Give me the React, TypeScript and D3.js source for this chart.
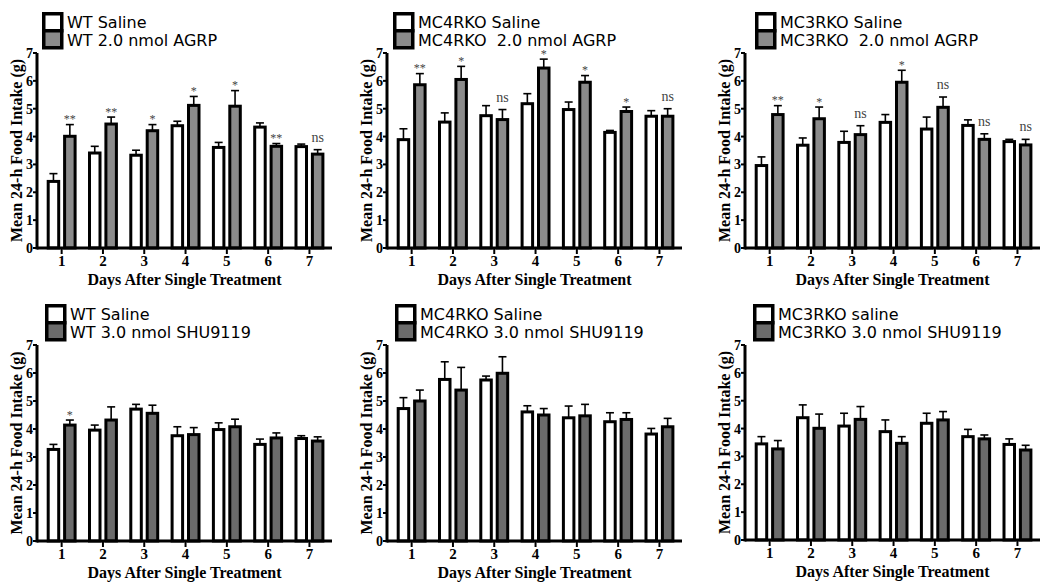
import React from "react";
import * as d3 from "d3";

const days = [1, 2, 3, 4, 5, 6, 7];
const yTicks = [0, 1, 2, 3, 4, 5, 6, 7];
const yLabel = "Mean 24-h Food Intake (g)";
const xLabel = "Days After Single Treatment";

// Panel 1: WT AGRP
const p1Names = ["WT Saline", "WT 2.0 nmol AGRP"];
const p1SalMean = [2.39, 3.41, 3.33, 4.39, 3.61, 4.34, 3.64];
const p1SalSem = [0.28, 0.24, 0.18, 0.16, 0.18, 0.15, 0.09];
const p1TrtMean = [4.01, 4.45, 4.21, 5.12, 5.09, 3.65, 3.37];
const p1TrtSem = [0.42, 0.25, 0.22, 0.32, 0.56, 0.1, 0.16];
const p1Sig = ["**", "**", "*", "*", "*", "**", "ns"];

// Panel 2: MC4RKO AGRP
const p2Names = ["MC4RKO Saline", "MC4RKO  2.0 nmol AGRP"];
const p2SalMean = [3.89, 4.52, 4.75, 5.18, 4.97, 4.15, 4.73];
const p2SalSem = [0.39, 0.33, 0.36, 0.36, 0.27, 0.07, 0.2];
const p2TrtMean = [5.86, 6.05, 4.61, 6.46, 5.95, 4.9, 4.73];
const p2TrtSem = [0.4, 0.47, 0.36, 0.32, 0.24, 0.16, 0.27];
const p2Sig = ["**", "*", "ns", "*", "*", "*", "ns"];

// Panel 3: MC3RKO AGRP
const p3Names = ["MC3RKO Saline", "MC3RKO  2.0 nmol AGRP"];
const p3SalMean = [2.96, 3.69, 3.79, 4.51, 4.27, 4.4, 3.82];
const p3SalSem = [0.31, 0.26, 0.4, 0.28, 0.43, 0.2, 0.08];
const p3TrtMean = [4.79, 4.64, 4.07, 5.95, 5.05, 3.9, 3.7];
const p3TrtSem = [0.32, 0.42, 0.32, 0.43, 0.37, 0.2, 0.2];
const p3Sig = ["**", "*", "ns", "*", "ns", "ns", "ns"];

// Panel 4: WT SHU9119
const p4Names = ["WT Saline", "WT 3.0 nmol SHU9119"];
const p4SalMean = [3.27, 3.96, 4.71, 3.76, 3.98, 3.45, 3.66];
const p4SalSem = [0.18, 0.18, 0.17, 0.32, 0.24, 0.19, 0.1];
const p4TrtMean = [4.14, 4.32, 4.56, 3.8, 4.08, 3.68, 3.57];
const p4TrtSem = [0.18, 0.47, 0.29, 0.25, 0.27, 0.18, 0.15];
const p4Sig = ["*", "", "", "", "", "", ""];

// Panel 5: MC4RKO SHU9119
const p5Names = ["MC4RKO Saline", "MC4RKO 3.0 nmol SHU9119"];
const p5SalMean = [4.73, 5.77, 5.75, 4.61, 4.4, 4.26, 3.82];
const p5SalSem = [0.39, 0.63, 0.14, 0.22, 0.42, 0.32, 0.2];
const p5TrtMean = [5.0, 5.39, 5.99, 4.5, 4.47, 4.34, 4.08];
const p5TrtSem = [0.39, 0.81, 0.59, 0.23, 0.41, 0.24, 0.3];
const p5Sig = ["", "", "", "", "", "", ""];

// Panel 6: MC3RKO SHU9119
const p6Names = ["MC3RKO saline", "MC3RKO 3.0 nmol SHU9119"];
const p6SalMean = [3.45, 4.39, 4.09, 3.89, 4.19, 3.71, 3.43];
const p6SalSem = [0.26, 0.46, 0.46, 0.42, 0.36, 0.26, 0.2];
const p6TrtMean = [3.27, 4.01, 4.33, 3.47, 4.31, 3.63, 3.23];
const p6TrtSem = [0.3, 0.51, 0.46, 0.24, 0.3, 0.14, 0.17];
const p6Sig = ["", "", "", "", "", "", ""];

const panels = [
  { names: p1Names, sm: p1SalMean, ss: p1SalSem, tm: p1TrtMean, ts: p1TrtSem, sig: p1Sig, ax: 37, top: 53, bot: 248, lg: 5, grey: "#8b8b8b" },
  { names: p2Names, sm: p2SalMean, ss: p2SalSem, tm: p2TrtMean, ts: p2TrtSem, sig: p2Sig, ax: 387, top: 53, bot: 248, lg: 6, grey: "#8b8b8b" },
  { names: p3Names, sm: p3SalMean, ss: p3SalSem, tm: p3TrtMean, ts: p3TrtSem, sig: p3Sig, ax: 745, top: 53, bot: 248, lg: 10, grey: "#8b8b8b" },
  { names: p4Names, sm: p4SalMean, ss: p4SalSem, tm: p4TrtMean, ts: p4TrtSem, sig: p4Sig, ax: 37, top: 345, bot: 541, lg: 8, grey: "#6b6b6b" },
  { names: p5Names, sm: p5SalMean, ss: p5SalSem, tm: p5TrtMean, ts: p5TrtSem, sig: p5Sig, ax: 387, top: 345, bot: 541, lg: 8, grey: "#6b6b6b" },
  { names: p6Names, sm: p6SalMean, ss: p6SalSem, tm: p6TrtMean, ts: p6TrtSem, sig: p6Sig, ax: 745, top: 345, bot: 540, lg: 8, grey: "#6b6b6b" },
];

const serif = "'Liberation Serif', 'Times New Roman', serif";
const sans = "'DejaVu Sans', sans-serif";

function Panel({ p }: { p: any }) {
  const width = 295;
  const x = d3.scaleBand<number>().domain(days).range([p.ax + 4, p.ax + 4 + 7 * 41.3]).padding(0);
  const y = d3.scaleLinear().domain([0, 7]).range([p.bot, p.top]);
  const bw = 10.5;
  const off = 8.2;
  const capW = 8;
  const series = [
    { mean: p.sm, sem: p.ss, fill: "#ffffff", dx: -off },
    { mean: p.tm, sem: p.ts, fill: p.grey, dx: off },
  ];
  const lgx = p.ax + p.lg;
  const lgy = p.top - 41;
  return (
    <g>
      {/* bars */}
      {series.map((s, si) =>
        days.map((d, i) => {
          const cx = (x(d) as number) + x.bandwidth() / 2 + s.dx;
          const yt = y(s.mean[i]);
          const ye = y(s.mean[i] + s.sem[i]);
          return (
            <g key={`${si}-${d}`}>
              <line x1={cx} x2={cx} y1={yt} y2={ye} stroke="#000" strokeWidth={1.6} />
              <line x1={cx - capW / 2} x2={cx + capW / 2} y1={ye} y2={ye} stroke="#000" strokeWidth={1.6} />
              <rect x={cx - bw / 2} y={yt} width={bw} height={p.bot - yt} fill={s.fill} stroke="#000" strokeWidth={3} />
            </g>
          );
        })
      )}
      {/* significance */}
      {days.map((d, i) => {
        const lab = p.sig[i];
        if (!lab) return null;
        const cx = (x(d) as number) + x.bandwidth() / 2 + off;
        const ye = y(p.tm[i] + p.ts[i]);
        const isNs = lab === "ns";
        return (
          <text key={`s${d}`} x={cx} y={isNs ? ye - 8 : ye - 1.5} textAnchor="middle" fontFamily={serif}
            fontSize={isNs ? 14 : 12} fill="#444" style={{ WebkitFontSmoothing: "antialiased" }}>
            {lab}
          </text>
        );
      })}
      {/* axes */}
      <line x1={p.ax} x2={p.ax + width} y1={p.bot} y2={p.bot} stroke="#000" strokeWidth={3} />
      <line x1={p.ax} x2={p.ax} y1={p.bot + 1.5} y2={p.top} stroke="#000" strokeWidth={3} />
      {yTicks.map((t) => (
        <g key={`yt${t}`}>
          <line x1={p.ax - 4} x2={p.ax} y1={y(t)} y2={y(t)} stroke="#000" strokeWidth={2} />
          <text x={p.ax - 4} y={y(t) + 5} textAnchor="end" fontFamily={serif} fontWeight="bold" fontSize={14}>
            {t}
          </text>
        </g>
      ))}
      {days.map((d) => {
        const cx = (x(d) as number) + x.bandwidth() / 2;
        return (
          <g key={`xt${d}`}>
            <line x1={cx} x2={cx} y1={p.bot} y2={p.bot + 6} stroke="#000" strokeWidth={2} />
            <text x={cx} y={p.bot + 18} textAnchor="middle" fontFamily={serif} fontWeight="bold" fontSize={15}>
              {d}
            </text>
          </g>
        );
      })}
      <text x={p.ax + width / 2} y={p.bot + 37} textAnchor="middle" fontFamily={serif} fontWeight="bold" fontSize={16}>
        {xLabel}
      </text>
      <text transform={`translate(${p.ax - 15},${(p.top + p.bot) / 2}) rotate(-90)`} textAnchor="middle"
        fontFamily={serif} fontWeight="bold" fontSize={16}>
        {yLabel}
      </text>
      {/* legend */}
      <rect x={lgx + 1.75} y={lgy + 1.75} width={18} height={17} fill="#fff" stroke="#000" strokeWidth={3.5} />
      <rect x={lgx + 1.75} y={lgy + 18.75} width={18} height={17} fill={p.grey} stroke="#000" strokeWidth={3.5} />
      <text x={lgx + 25} y={lgy + 16} fontFamily={sans} fontSize={16} style={{ whiteSpace: "pre" }}>
        {p.names[0]}
      </text>
      <text x={lgx + 25} y={lgy + 34} fontFamily={sans} fontSize={16} style={{ whiteSpace: "pre" }}>
        {p.names[1]}
      </text>
    </g>
  );
}

export default function App() {
  return (
    <svg width={1050} height={587} style={{ position: "absolute", left: 0, top: 0, background: "#fff" }}>
      <rect x={0} y={0} width={1050} height={587} fill="#fff" />
      {panels.map((p, i) => (
        <Panel key={i} p={p} />
      ))}
    </svg>
  );
}
